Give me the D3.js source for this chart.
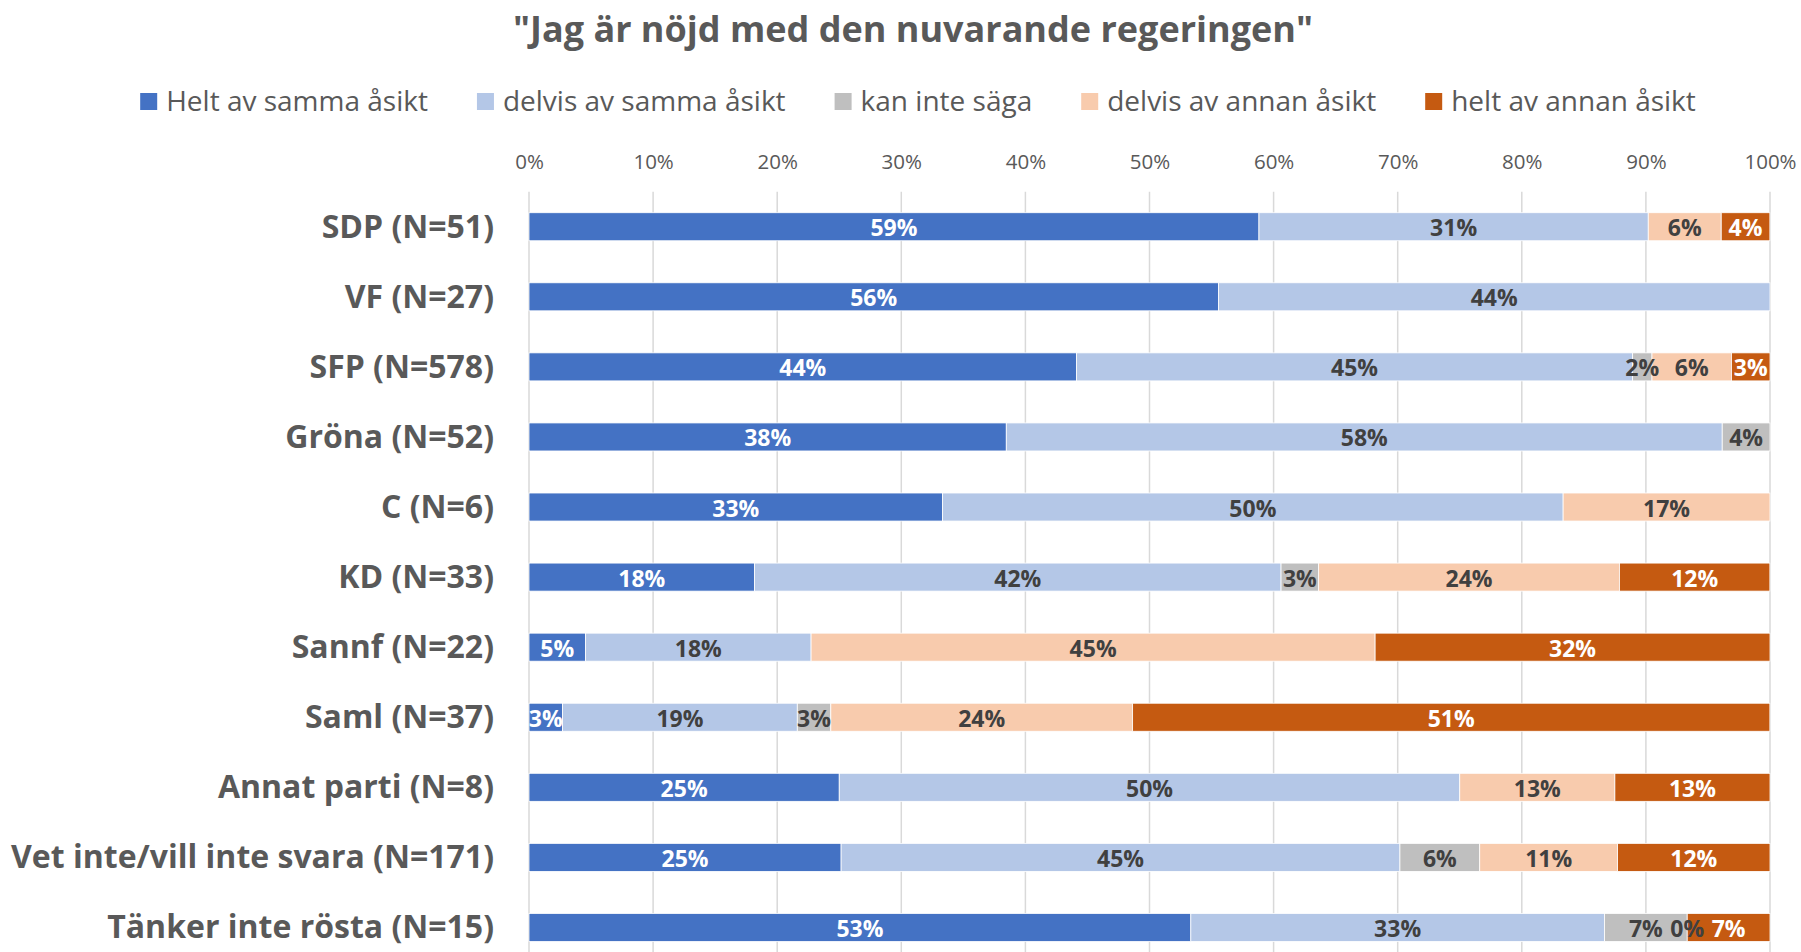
<!DOCTYPE html>
<html>
<head>
<meta charset="utf-8">
<script src="https://cdn.jsdelivr.net/npm/d3@7"></script>
<style>
  body { margin: 0; background: #fff; }
  text { font-family: "Open Sans", "Noto Sans", sans-serif; }
</style>
</head>
<body>
<div id="main"></div>
<script>
const ctx = {
    w: 1801,
    h: 952,
};

// Kategorier (partier) och andelar i procent per svarsalternativ
const categories = ["SDP (N=51)", "VF (N=27)", "SFP (N=578)", "Gröna (N=52)", "C (N=6)",
    "KD (N=33)", "Sannf (N=22)", "Saml (N=37)", "Annat parti (N=8)",
    "Vet inte/vill inte svara (N=171)", "Tänker inte rösta (N=15)"];

const seriesNames = ["Helt av samma åsikt", "delvis av samma åsikt", "kan inte säga",
    "delvis av annan åsikt", "helt av annan åsikt"];

const heltSamma   = [58.82, 55.56, 44.12, 38.46, 33.33, 18.18, 4.55, 2.70, 25.00, 25.15, 53.33];
const delvisSamma = [31.37, 44.44, 44.81, 57.69, 50.00, 42.42, 18.18, 18.92, 50.00, 45.03, 33.33];
const kanInte     = [null, null, 1.56, 3.85, null, 3.03, null, 2.70, null, 6.43, 6.67];
const delvisAnnan = [5.88, null, 6.40, null, 16.67, 24.24, 45.45, 24.32, 12.50, 11.11, 0];
const heltAnnan   = [3.92, null, 3.11, null, null, 12.12, 31.82, 51.35, 12.50, 12.28, 6.67];

const tickValues = [0, 10, 20, 30, 40, 50, 60, 70, 80, 90, 100];

const seriesColors = ["#4472C4", "#B4C7E7", "#BFBFBF", "#F8CBAD", "#C55A11"];
const labelColors  = ["#ffffff", "#404040", "#404040", "#404040", "#ffffff"];

function createViz() {
    const svgEl = d3.select("#main").append("svg")
        .attr("width", ctx.w)
        .attr("height", ctx.h);

    const allSeries = [heltSamma, delvisSamma, kanInte, delvisAnnan, heltAnnan];
    const keys = d3.range(seriesNames.length);
    const rows = categories.map((c, i) => {
        let r = {cat: c};
        keys.forEach(k => { r[k] = allSeries[k][i] || 0; });
        return r;
    });
    const stacked = d3.stack().keys(keys)(rows);

    const xScale = d3.scaleLinear()
        .domain([0, 100])
        .range([529, 1770]);

    const yScale = d3.scaleBand()
        .domain(categories)
        .range([191.7, 962.5])
        .paddingInner(0.6)
        .paddingOuter(0.3);

    // Rutnät
    svgEl.append("g")
        .selectAll("line")
        .data(tickValues)
        .enter().append("line")
        .attr("x1", d => xScale(d))
        .attr("x2", d => xScale(d))
        .attr("y1", 191.7)
        .attr("y2", ctx.h)
        .attr("stroke", "#D9D9D9")
        .attr("stroke-width", 1.5);

    // X-axel överst
    const xAxis = svgEl.append("g")
        .attr("transform", "translate(0,169)")
        .call(d3.axisTop(xScale).tickValues(tickValues).tickSize(0).tickPadding(0)
            .tickFormat(d => d + "%"));
    xAxis.select(".domain").remove();
    xAxis.selectAll("text")
        .style("font-size", "20.5px")
        .style("fill", "#595959");

    // Y-axel
    const yAxis = svgEl.append("g")
        .attr("transform", "translate(494,0)")
        .call(d3.axisLeft(yScale).tickSize(0).tickPadding(0));
    yAxis.select(".domain").remove();
    yAxis.selectAll("text")
        .attr("dy", null)
        .attr("y", 11)
        .style("font-size", "32px")
        .style("font-weight", "bold")
        .style("fill", "#595959");

    // Staplar
    const layers = svgEl.append("g")
        .selectAll("g")
        .data(stacked)
        .enter().append("g")
        .attr("fill", d => seriesColors[d.key]);

    layers.selectAll("rect")
        .data(d => d)
        .enter().append("rect")
        .attr("x", d => xScale(d[0]))
        .attr("y", d => yScale(d.data.cat))
        .attr("width", d => xScale(d[1]) - xScale(d[0]))
        .attr("height", yScale.bandwidth())
        .attr("stroke", "#ffffff")
        .attr("stroke-width", 0.8);

    // Dataetiketter
    stacked.forEach(layer => {
        const k = layer.key;
        svgEl.append("g")
            .selectAll("text")
            .data(layer.filter((d, i) => allSeries[k][i] !== null))
            .enter().append("text")
            .attr("x", d => (xScale(d[0]) + xScale(d[1])) / 2)
            .attr("y", d => yScale(d.data.cat) + yScale.bandwidth() / 2 + 9.5)
            .attr("text-anchor", "middle")
            .style("font-size", "23px")
            .style("font-weight", "bold")
            .style("fill", labelColors[k])
            .text(d => Math.round(d[1] - d[0]) + "%");
    });

    // Legend
    const legend = svgEl.append("g");
    let lx = 0;
    seriesNames.forEach((name, i) => {
        const item = legend.append("g").attr("transform", `translate(${lx},0)`);
        item.append("rect")
            .attr("x", 0)
            .attr("y", 93)
            .attr("width", 17)
            .attr("height", 17)
            .attr("fill", seriesColors[i]);
        const t = item.append("text")
            .attr("x", 26)
            .attr("y", 110.5)
            .style("font-size", "28px")
            .style("fill", "#595959")
            .text(name);
        lx += 26 + t.node().getComputedTextLength() + (i < seriesNames.length - 1 ? 49 : 0);
    });
    legend.attr("transform", `translate(${918 - lx / 2},0)`);

    // Titel
    svgEl.append("text")
        .attr("x", 913)
        .attr("y", 42)
        .attr("text-anchor", "middle")
        .style("font-size", "36px")
        .style("font-weight", "bold")
        .style("fill", "#595959")
        .text('"Jag är nöjd med den nuvarande regeringen"');
}

createViz();
</script>
</body>
</html>
